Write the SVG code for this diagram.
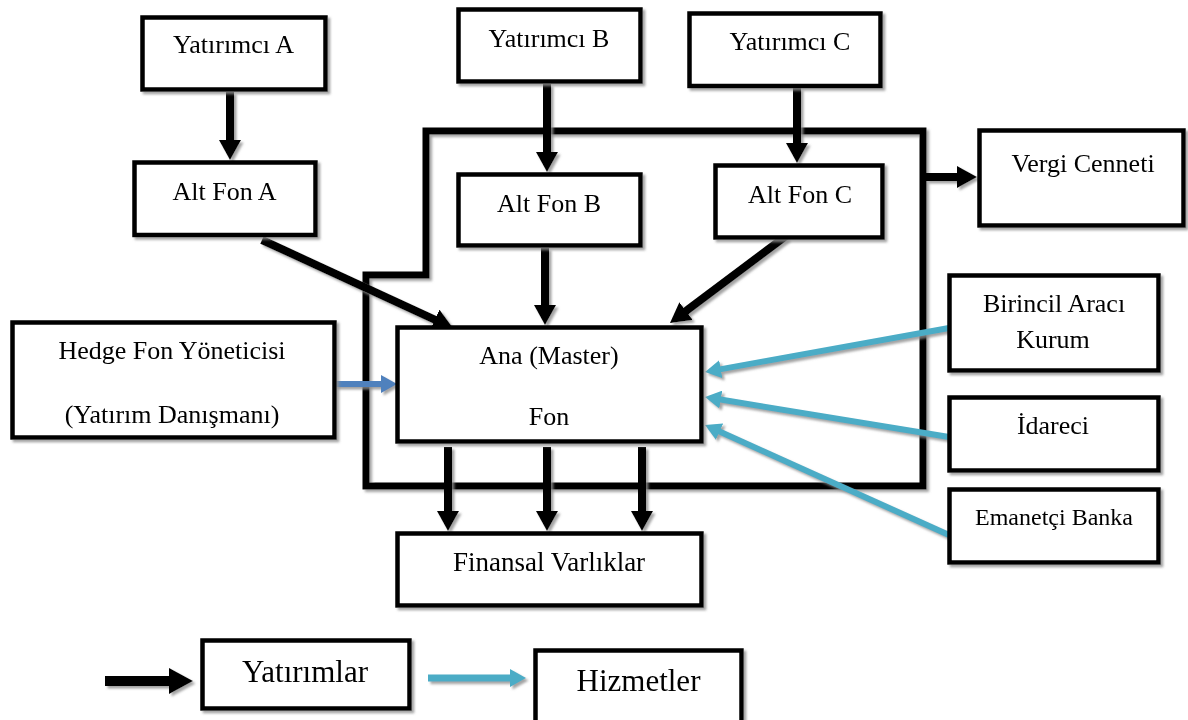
<svg xmlns="http://www.w3.org/2000/svg" width="1188" height="720" viewBox="0 0 1188 720">
  <style>
    .box { fill: #ffffff; stroke: #000000; stroke-width: 4.5; }
    .frame { fill: none; stroke: #000000; stroke-width: 7; stroke-linejoin: miter; }
    .lbl { font-family: "Liberation Serif", "Times New Roman", serif; font-size: 26px; fill: #000000; text-anchor: middle; }
    .small { font-size: 24px; }
    .big { font-size: 31px; }
    .inv { fill: none; stroke: #000000; stroke-width: 8; }
    .svc { fill: none; stroke: #4BACC6; stroke-width: 6; }
    .mgr { fill: none; stroke: #4F81BD; stroke-width: 6; }
  </style>
  <defs>
    <filter id="shadow" x="-10%" y="-10%" width="130%" height="130%">
      <feDropShadow dx="2.5" dy="2.5" stdDeviation="0.8" flood-color="#8c8c8c" flood-opacity="0.8"/>
    </filter>
    <marker id="headBlack" viewBox="0 0 20 22" refX="10" refY="11" markerWidth="20" markerHeight="22" markerUnits="userSpaceOnUse" orient="auto">
      <path d="M0,0 L20,11 L0,22 Z" fill="#000000"/>
    </marker>
    <marker id="headBlackLg" viewBox="0 0 24 26" refX="12" refY="13" markerWidth="24" markerHeight="26" markerUnits="userSpaceOnUse" orient="auto">
      <path d="M0,0 L24,13 L0,26 Z" fill="#000000"/>
    </marker>
    <marker id="headCyan" viewBox="0 0 16 18" refX="8" refY="9" markerWidth="16" markerHeight="18" markerUnits="userSpaceOnUse" orient="auto">
      <path d="M0,0 L16,9 L0,18 Z" fill="#4BACC6"/>
    </marker>
    <marker id="headBlue" viewBox="0 0 16 18" refX="8" refY="9" markerWidth="16" markerHeight="18" markerUnits="userSpaceOnUse" orient="auto">
      <path d="M0,0 L16,9 L0,18 Z" fill="#4F81BD"/>
    </marker>
  </defs>

  <rect width="1188" height="720" fill="#ffffff"/>

  <!-- master-feeder structure boundary -->
  <g id="structure" filter="url(#shadow)">
    <path class="frame" d="M426,275 V131 H923 V486 H366 V275 Z"/>
  </g>

  <!-- connectors -->
  <g id="connectors" filter="url(#shadow)">
    <!-- investments (black) -->
    <line class="inv" x1="230" y1="92" x2="230" y2="150" marker-end="url(#headBlack)"/>
    <line class="inv" x1="547" y1="84" x2="547" y2="162" marker-end="url(#headBlack)"/>
    <line class="inv" x1="797" y1="88" x2="797" y2="153" marker-end="url(#headBlack)"/>
    <line class="inv" x1="926" y1="177" x2="967" y2="177" marker-end="url(#headBlack)"/>
    <line class="inv" x1="262" y1="240" x2="443.9" y2="323.8" marker-end="url(#headBlack)"/>
    <line class="inv" x1="545" y1="248" x2="545" y2="315" marker-end="url(#headBlack)"/>
    <line class="inv" x1="786" y1="236" x2="678" y2="317" marker-end="url(#headBlack)"/>
    <line class="inv" x1="448" y1="447" x2="448" y2="521" marker-end="url(#headBlack)"/>
    <line class="inv" x1="547" y1="447" x2="547" y2="521" marker-end="url(#headBlack)"/>
    <line class="inv" x1="642" y1="447" x2="642" y2="521" marker-end="url(#headBlack)"/>
    <!-- services (cyan) -->
    <line class="svc" x1="949" y1="328" x2="712.9" y2="370.6" marker-end="url(#headCyan)"/>
    <line class="svc" x1="949" y1="437" x2="712.9" y2="398.3" marker-end="url(#headCyan)"/>
    <line class="svc" x1="949" y1="535" x2="712.3" y2="428.3" marker-end="url(#headCyan)"/>
    <!-- manager (blue) -->
    <line class="mgr" x1="334" y1="384" x2="389" y2="384" marker-end="url(#headBlue)"/>
    <!-- legend arrows -->
    <line class="inv" x1="105" y1="681" x2="181" y2="681" style="stroke-width:10" marker-end="url(#headBlackLg)"/>
    <line class="svc" x1="428" y1="678" x2="518" y2="678" style="stroke-width:7" marker-end="url(#headCyan)"/>
  </g>

  <!-- nodes -->
  <g id="yatirimci-a" filter="url(#shadow)">
    <rect class="box" x="142.5" y="17.5" width="183" height="72"/>
    <text class="lbl" x="233.5" y="53">Yatırımcı A</text>
  </g>
  <g id="yatirimci-b" filter="url(#shadow)">
    <rect class="box" x="458.5" y="9.5" width="182" height="72"/>
    <text class="lbl" x="549" y="47">Yatırımcı B</text>
  </g>
  <g id="yatirimci-c" filter="url(#shadow)">
    <rect class="box" x="689.5" y="13.5" width="191" height="72.5"/>
    <text class="lbl" x="790" y="50">Yatırımcı C</text>
  </g>
  <g id="alt-fon-a" filter="url(#shadow)">
    <rect class="box" x="134.5" y="162.5" width="181" height="72.5"/>
    <text class="lbl" x="224.5" y="200">Alt Fon A</text>
  </g>
  <g id="alt-fon-b" filter="url(#shadow)">
    <rect class="box" x="458.5" y="174.5" width="182" height="71"/>
    <text class="lbl" x="549" y="212">Alt Fon B</text>
  </g>
  <g id="alt-fon-c" filter="url(#shadow)">
    <rect class="box" x="715.5" y="165.5" width="167" height="72"/>
    <text class="lbl" x="800" y="203">Alt Fon C</text>
  </g>
  <g id="vergi-cenneti" filter="url(#shadow)">
    <rect class="box" x="979.5" y="130.5" width="204" height="95"/>
    <text class="lbl" x="1083" y="172">Vergi Cenneti</text>
  </g>
  <g id="hedge-fon-yoneticisi" filter="url(#shadow)">
    <rect class="box" x="12.5" y="322.5" width="322" height="115"/>
    <text class="lbl" x="172" y="359">Hedge Fon Yöneticisi</text>
    <text class="lbl" x="172" y="423">(Yatırım Danışmanı)</text>
  </g>
  <g id="ana-fon" filter="url(#shadow)">
    <rect class="box" x="397.5" y="327.5" width="304" height="114"/>
    <text class="lbl" x="549" y="364">Ana (Master)</text>
    <text class="lbl" x="549" y="425">Fon</text>
  </g>
  <g id="finansal-varliklar" filter="url(#shadow)">
    <rect class="box" x="397.5" y="533.5" width="304" height="72"/>
    <text class="lbl" x="549" y="571" style="font-size:27px">Finansal Varlıklar</text>
  </g>
  <g id="birincil-araci-kurum" filter="url(#shadow)">
    <rect class="box" x="949.5" y="275.5" width="209" height="95"/>
    <text class="lbl" x="1054" y="312">Birincil Aracı</text>
    <text class="lbl" x="1053" y="348">Kurum</text>
  </g>
  <g id="idareci" filter="url(#shadow)">
    <rect class="box" x="949.5" y="397.5" width="209" height="73"/>
    <text class="lbl" x="1053" y="434">İdareci</text>
  </g>
  <g id="emanetci-banka" filter="url(#shadow)">
    <rect class="box" x="949.5" y="489.5" width="209" height="73"/>
    <text class="lbl small" x="1054" y="525">Emanetçi Banka</text>
  </g>

  <!-- legend -->
  <g id="legend-yatirimlar" filter="url(#shadow)">
    <rect class="box" x="202.5" y="640.5" width="207" height="68"/>
    <text class="lbl big" x="305" y="682">Yatırımlar</text>
  </g>
  <g id="legend-hizmetler" filter="url(#shadow)">
    <rect class="box" x="535.5" y="650.5" width="206" height="80"/>
    <text class="lbl big" x="638.5" y="691">Hizmetler</text>
  </g>
</svg>
